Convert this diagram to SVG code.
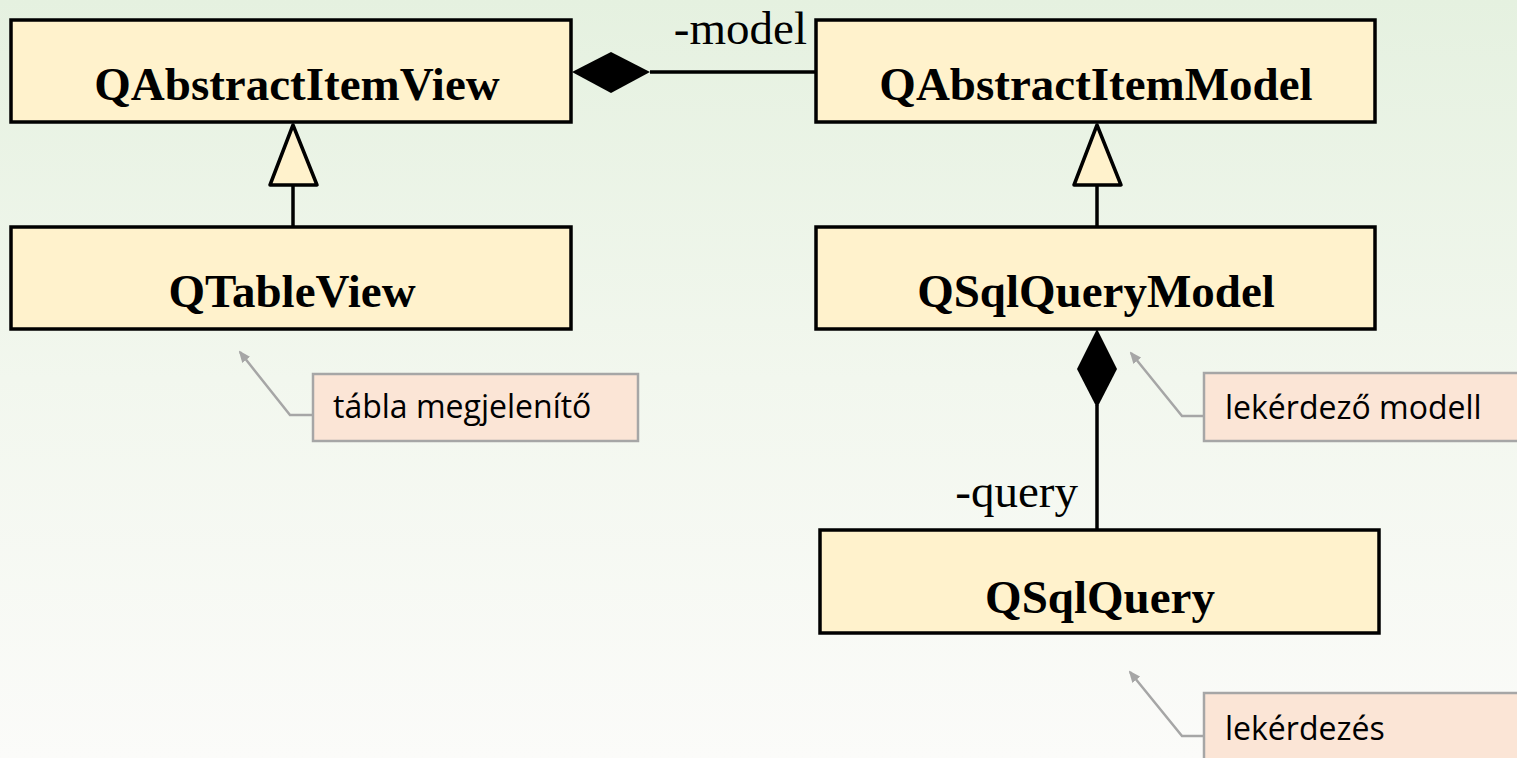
<svg xmlns="http://www.w3.org/2000/svg" width="1517" height="758" viewBox="0 0 1517 758">
  <defs>
    <linearGradient id="bg" x1="0" y1="0" x2="0" y2="1">
      <stop offset="0" stop-color="#e5f1e0"/>
      <stop offset="0.5" stop-color="#f2f7ee"/>
      <stop offset="1" stop-color="#fbfbf9"/>
    </linearGradient>
    <marker id="noteArrow" viewBox="0 0 12 10" refX="10" refY="5" markerWidth="12" markerHeight="10" markerUnits="userSpaceOnUse" orient="auto">
      <path d="M0,0 L12,5 L0,10 Z" fill="#a6a6a6"/>
    </marker>
  </defs>
  <style>
    .cls { fill: #fff2cc; stroke: #000; stroke-width: 3.5; }
    .clsName { font-family: "Liberation Serif", "Times New Roman", serif; font-weight: bold; font-size: 47px; fill: #000; text-anchor: middle; }
    .role { font-family: "Liberation Serif", "Times New Roman", serif; font-size: 47px; fill: #000; text-anchor: end; }
    .link { stroke: #000; stroke-width: 3.5; fill: none; }
    .gen { fill: #fff2cc; stroke: #000; stroke-width: 3.5; stroke-linejoin: round; }
    .comp { fill: #000; stroke: none; }
    .note { fill: #fbe5d6; stroke: #a6a6a6; stroke-width: 2.5; }
    .noteText { font-family: "Open Sans", "Noto Sans", sans-serif; font-size: 32px; fill: #000; }
    .noteLink { stroke: #a6a6a6; stroke-width: 2.5; fill: none; marker-end: url(#noteArrow); }
  </style>

  <rect x="0" y="0" width="1517" height="758" fill="url(#bg)"/>

  <!-- associations and generalisations -->
  <g id="connectors">
    <!-- QAbstractItemView <>- QAbstractItemModel -->
    <line class="link" x1="650" y1="72" x2="816" y2="72"/>
    <polygon class="comp" points="572,72 611,52 650,72 611,93"/>
    <text class="role" x="807" y="44">-model</text>

    <!-- QTableView -> QAbstractItemView -->
    <line class="link" x1="293" y1="185" x2="293" y2="227"/>
    <polygon class="gen" points="293,125 317,185 270,185"/>

    <!-- QSqlQueryModel -> QAbstractItemModel -->
    <line class="link" x1="1097" y1="185" x2="1097" y2="227"/>
    <polygon class="gen" points="1097,125 1121,185 1074,185"/>

    <!-- QSqlQueryModel <>- QSqlQuery -->
    <line class="link" x1="1097" y1="405" x2="1097" y2="530"/>
    <polygon class="comp" points="1097,329 1117,369 1097,408 1077,369"/>
    <text class="role" x="1078" y="507">-query</text>

    <!-- note pointers -->
    <polyline class="noteLink" points="313,415 290,415 240,352"/>
    <polyline class="noteLink" points="1204,416 1182,416 1131,353"/>
    <polyline class="noteLink" points="1204,736 1182,736 1130,672"/>
  </g>

  <g id="QAbstractItemView">
    <rect class="cls" x="11" y="20" width="560" height="102"/>
    <text class="clsName" x="297" y="100">QAbstractItemView</text>
  </g>

  <g id="QAbstractItemModel">
    <rect class="cls" x="816" y="20" width="559" height="102"/>
    <text class="clsName" x="1096" y="100">QAbstractItemModel</text>
  </g>

  <g id="QTableView">
    <rect class="cls" x="11" y="227" width="560" height="102"/>
    <text class="clsName" x="292" y="307">QTableView</text>
  </g>

  <g id="QSqlQueryModel">
    <rect class="cls" x="816" y="227" width="559" height="102"/>
    <text class="clsName" x="1096" y="307">QSqlQueryModel</text>
  </g>

  <g id="QSqlQuery">
    <rect class="cls" x="820" y="530" width="559" height="103"/>
    <text class="clsName" x="1100" y="613">QSqlQuery</text>
  </g>

  <g id="note-tabla">
    <rect class="note" x="313" y="374" width="325" height="67"/>
    <text class="noteText" x="333" y="418">tábla megjelenítő</text>
  </g>

  <g id="note-lekerdezo-modell">
    <rect class="note" x="1204" y="373" width="325" height="68"/>
    <text class="noteText" x="1225" y="419">lekérdező modell</text>
  </g>

  <g id="note-lekerdezes">
    <rect class="note" x="1204" y="693" width="325" height="80"/>
    <text class="noteText" x="1225" y="740">lekérdezés</text>
  </g>
</svg>
